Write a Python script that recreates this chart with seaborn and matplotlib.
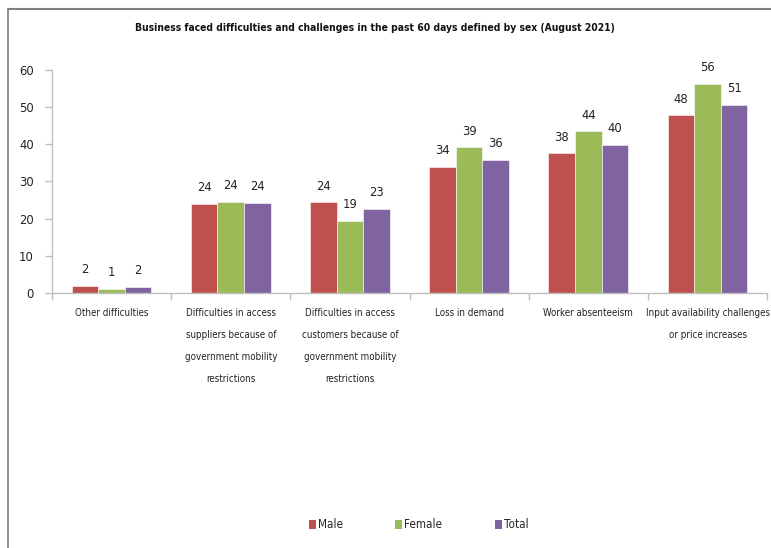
import matplotlib
matplotlib.use("Agg")
import matplotlib.pyplot as plt
from matplotlib import font_manager
import seaborn as sns
import pandas as pd
import numpy as np
from matplotlib.lines import Line2D
from matplotlib.patches import Patch

categories = [
    "Other difficulties",
    "Difficulties in access\nsuppliers because of\ngovernment mobility\nrestrictions",
    "Difficulties in access\ncustomers because of\ngovernment mobility\nrestrictions",
    "Loss in demand",
    "Worker absenteeism",
    "Input availability challenges\nor price increases",
]
series = ["Male", "Female", "Total"]
male = [1.9, 23.9, 24.4, 33.9, 37.6, 47.8]
female = [1.1, 24.5, 19.4, 39.2, 43.5, 56.3]
total = [1.6, 24.2, 22.6, 35.8, 39.8, 50.7]
colors = ["#C0504D", "#9BBB59", "#8064A2"]

df = pd.DataFrame({
    "category": categories * 3,
    "series": sum([[s] * len(categories) for s in series], []),
    "value": male + female + total,
})

# choose a narrow font if one is available
fl = font_manager.fontManager.ttflist
names = {f.name for f in fl}
stretch = "normal"
if "Liberation Sans Narrow" in names:
    fam = "Liberation Sans Narrow"
    k = 1.0
elif any(f.name == "DejaVu Sans" and f.stretch in ("condensed", "semi-condensed") for f in fl):
    fam = "DejaVu Sans"
    stretch = "condensed"
    k = 0.88
else:
    fam = "Liberation Sans"
    k = 0.82

sns.set_theme(style="white")
plt.rcParams["font.family"] = [fam, "DejaVu Sans"]
plt.rcParams["font.stretch"] = stretch

fig = plt.figure(figsize=(7.71, 5.48), dpi=100)
ax = fig.add_axes([0.0674, 0.4653, 0.9276, 0.407])

sns.barplot(data=df, x="category", y="value", hue="series", order=categories,
            hue_order=series, palette=colors, width=0.67, gap=0, ax=ax,
            legend=False, saturation=1, edgecolor="white", linewidth=0.4)

for cont in ax.containers:
    ax.bar_label(cont, labels=[f"{round(v.get_height())}" for v in cont],
                 padding=7, fontsize=10.5 * k, color="#222222")

ax.set_ylim(0, 60)
ax.set_xlim(-0.5, 5.5)
ax.set_yticks(range(0, 61, 10))
ax.set_xlabel("")
ax.set_ylabel("")
for s in ["top", "right"]:
    ax.spines[s].set_visible(False)
for s in ["left", "bottom"]:
    ax.spines[s].set_color("#BFBFBF")
    ax.spines[s].set_linewidth(1)
ax.set_xticks(np.arange(-0.5, 5.6, 1.0), minor=True)
ax.tick_params(axis="x", which="major", length=0, pad=11, labelsize=9.5 * k * 0.84, colors="#222222")
ax.tick_params(axis="x", which="minor", length=5, direction="out", color="#BFBFBF", width=1, bottom=True)
ax.tick_params(axis="y", length=5, direction="out", color="#BFBFBF", width=1,
               labelsize=10.5 * k, colors="#222222", pad=8, left=True)
for t in ax.get_xticklabels():
    t.set_linespacing(2.5)

fig.text(0.486, 0.949, "Business faced difficulties and challenges in the past 60 days defined by sex (August 2021)",
         ha="center", va="center", fontsize=10.5 * k * 0.8, fontweight="bold", color="#111111")

handles = [Patch(facecolor=c, edgecolor="none") for c in colors]
fig.legend(handles, series, loc="center", bbox_to_anchor=(0.543, 0.042), ncol=3,
           frameon=False, fontsize=9.5 * k, handlelength=0.6, handleheight=0.9,
           handletextpad=0.2, columnspacing=4.5)

fig.add_artist(Line2D([0.0104, 1.0], [0.984, 0.984], color="#7F7F7F", lw=1.5, transform=fig.transFigure))
fig.add_artist(Line2D([0.0104, 0.0104], [0.0, 0.984], color="#7F7F7F", lw=1.2, transform=fig.transFigure))

fig.savefig("out.png", dpi=100)
